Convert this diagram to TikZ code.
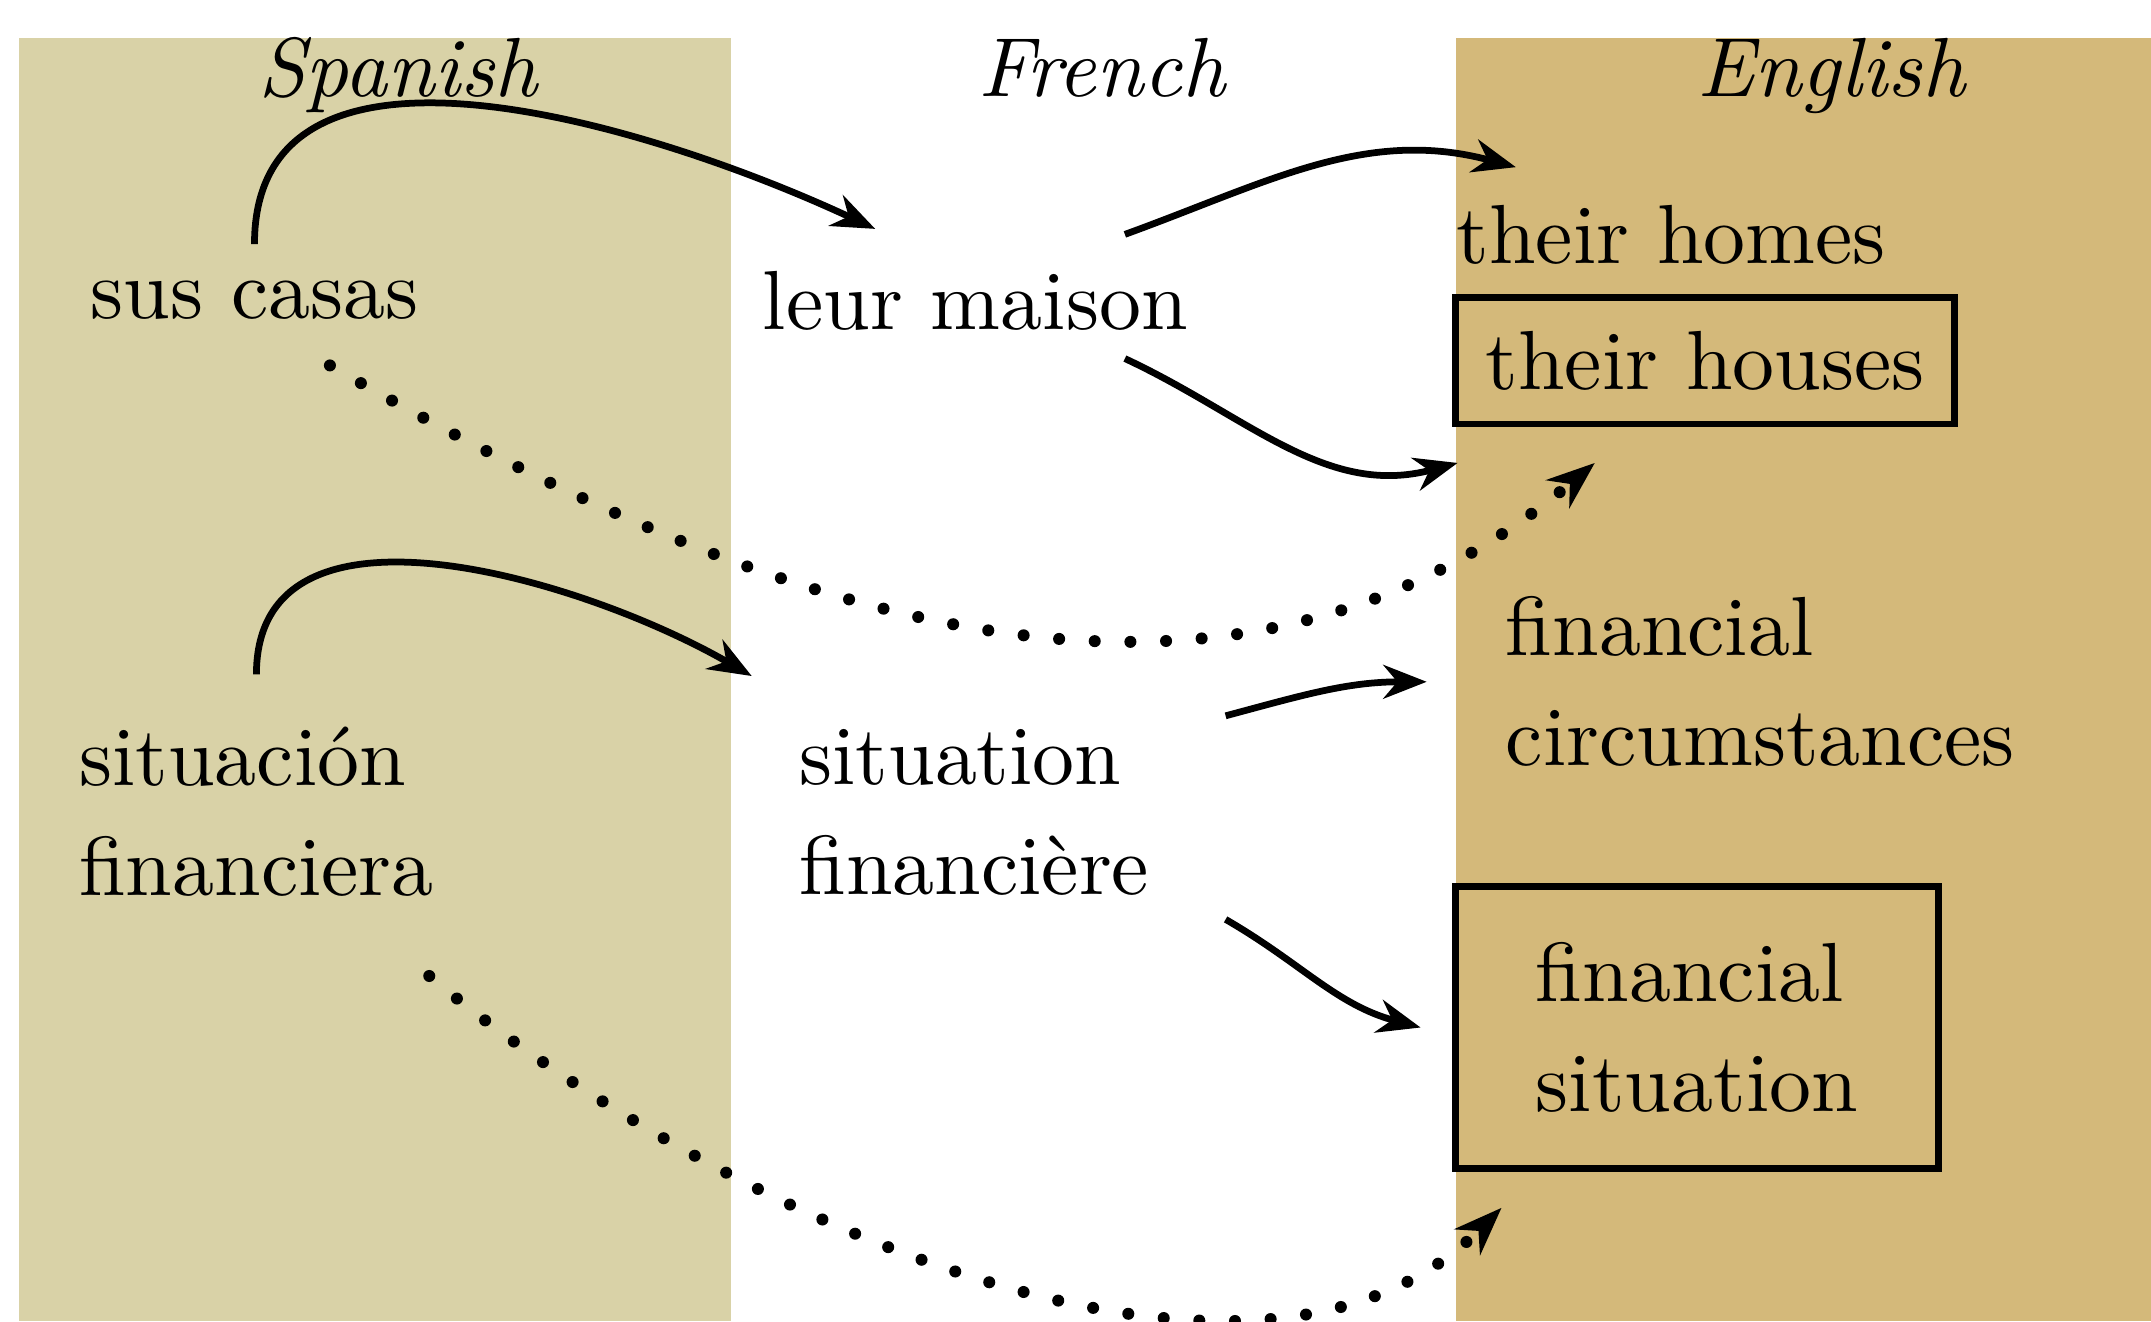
\documentclass[tikz,border=0pt]{standalone}
\usepackage{fontspec}
\setmainfont{lmroman10-regular.otf}[ItalicFont=lmroman10-italic.otf]
\usetikzlibrary{arrows.meta}
\definecolor{spanishbg}{RGB}{217,210,167}
\definecolor{englishbg}{RGB}{212,185,122}
\tikzset{
  word/.style={font=\fontsize{17.4}{22.8}\selectfont, inner sep=0.2cm},
  lang/.style={font=\fontsize{17.4}{22.8}\selectfont\itshape, anchor=base},
  choice/.style={word, draw, line width=1.4pt},
  link/.style={-{Stealth[length=9pt,width=7pt]}, line width=1.4pt},
  dotlink/.style={-{Stealth[length=10pt,width=7.5pt]}, line width=2.5pt,
    dash pattern=on 0pt off 7.4pt, line cap=round},
}
\begin{document}
\begin{tikzpicture}[x=1cm,y=1cm]
\useasboundingbox (0,0) rectangle (15.68,9.63);
% language columns
\fill[spanishbg] (0.14,0) rectangle (5.33,9.35);
\fill[englishbg] (10.61,0) rectangle (15.68,9.35);

\node[lang] (es) at (2.90,8.93) {Spanish};
\node[lang] (fr) at (8.03,8.93) {French};
\node[lang] (en) at (13.35,8.93) {English};

% phrases
\node[word, anchor=base] (sus) at (1.855,7.31) {sus casas};
\node[word, align=left, anchor=west] (sitES) at (0.37,3.71) {situación\\financiera};

\node[word, anchor=base] (leur) at (7.11,7.23) {leur maison};
\node[word, align=left, anchor=west] (sitFR) at (5.62,3.71) {situation\\financière};

\node[word, anchor=base west] (homes) at (10.41,7.71) {their homes};
\node[choice, minimum width=3.64cm, minimum height=0.92cm] (houses) at (12.43,7.00) {their houses};
\node[word, align=left, anchor=west] (circ) at (10.77,4.66) {financial\\circumstances};
\node[choice, align=left, minimum width=3.52cm, minimum height=2.06cm] (finsit) at (12.37,2.14) {financial\\situation};

% pivot translations
\draw[link] ([yshift=0.06cm]sus.north) to[out=90,in=155] ([shift={(-0.73,0.1)}]leur.north);
\draw[link] ([yshift=0.18cm]sitES.north) to[out=90,in=150] ([shift={(-0.14,0.18)}]sitFR.north west);

\draw[link] ([shift={(1.09,0.06)}]leur.north) to[out=20,in=165] ([shift={(0.64,0.07)}]homes.north west);
\draw[link] ([xshift=1.09cm]leur.south) to[out=-25,in=195] ([shift={(0.04,-0.26)}]houses.south west);
\draw[link] ([shift={(0.35,-0.11)}]sitFR.north east) to[out=15,in=180] ([xshift=-0.37cm]circ.west);
\draw[link] ([shift={(0.35,0.03)}]sitFR.south east) to[out=-30,in=165] ([xshift=-0.23cm]finsit.west);

% direct translations
\draw[dotlink] ([shift={(0.55,-0.13)}]sus.south) to[out=-30,in=220] ([shift={(1.04,-0.26)}]houses.south west);
\draw[dotlink] ([shift={(1.26,-0.37)}]sitES.south) to[out=-40,in=225,looseness=0.84] ([shift={(0.36,-0.26)}]finsit.south west);
\end{tikzpicture}
\end{document}
